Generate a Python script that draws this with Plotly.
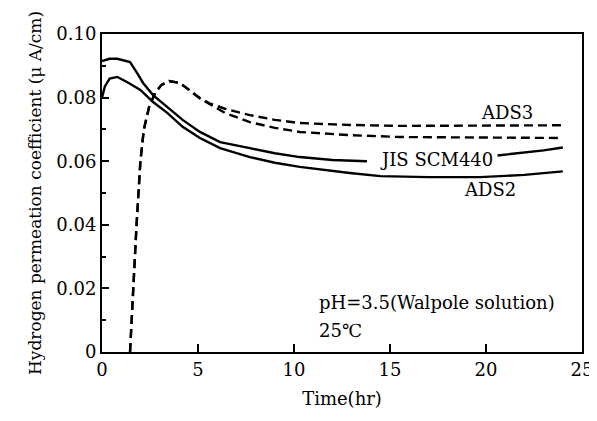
import plotly.graph_objects as go

# --- data ---
jis_x = [0, 0.4, 0.8, 1.1, 1.46, 1.8, 2.14, 2.66, 3.4, 4.2, 5.1, 6.15, 7.7, 9.0, 10.3, 12.0, 13.8, None, 20.6, 22, 23, 24]
jis_y = [0.0915, 0.0922, 0.0922, 0.0918, 0.0912, 0.0880, 0.0846, 0.0808, 0.0770, 0.0730, 0.0692, 0.0660, 0.0641, 0.0625, 0.0613, 0.0604, 0.0600, None, 0.0618, 0.0626, 0.0634, 0.0643]

ads2_x = [0, 0.15, 0.4, 0.8, 1.3, 2.0, 2.66, 3.4, 4.2, 5.1, 6.15, 7.7, 9.0, 10.3, 12.9, 14.5, 17, 19.7, 22, 24]
ads2_y = [0.0800, 0.0835, 0.0860, 0.0865, 0.0849, 0.0824, 0.0786, 0.0752, 0.0708, 0.0673, 0.0641, 0.0613, 0.0595, 0.0582, 0.0563, 0.0553, 0.0550, 0.0550, 0.0557, 0.0568]

ads3_x = [1.46, 1.62, 1.8, 2.0, 2.18, 2.45, 2.76, 3.1, 3.5, 4.06, 4.74, 5.1, 5.6, 6.4, 7.7, 9.0, 10.3, 12.9, 15.5, 20, 24]
ads3_y = [0.0, 0.020, 0.040, 0.060, 0.070, 0.0770, 0.0814, 0.0840, 0.0852, 0.0846, 0.0815, 0.0798, 0.0782, 0.0765, 0.0745, 0.0730, 0.0720, 0.0714, 0.0711, 0.0712, 0.0713]

other_x = [1.46, 1.62, 1.8, 2.0, 2.18, 2.45, 2.76, 3.1, 3.5, 4.06, 4.74, 5.1, 5.6, 6.4, 7.7, 9.0, 10.3, 12.9, 15.5, 20, 24]
other_y = [0.0, 0.020, 0.040, 0.060, 0.070, 0.0770, 0.0814, 0.0840, 0.0852, 0.0846, 0.0815, 0.0798, 0.0780, 0.0752, 0.0723, 0.0705, 0.0692, 0.0682, 0.0676, 0.0674, 0.0673]

y_ticks = [0, 0.02, 0.04, 0.06, 0.08, 0.10]
y_tick_labels = ["0", "0.02", "0.04", "0.06", "0.08", "0.10"]
y_minor = [0.01, 0.03, 0.05, 0.07, 0.09]
x_ticks = [0, 5, 10, 15, 20, 25]
x_tick_labels = ["0", "5", "10", "15", "20", "25"]

FONT = "DejaVu Serif"
FS = 18

fig = go.Figure()
solid = dict(color="black", width=2.4)
dashed = dict(color="black", width=2.4, dash="9px,5px")
fig.add_trace(go.Scatter(x=jis_x, y=jis_y, mode="lines", line=solid, name="JIS SCM440", connectgaps=False))
fig.add_trace(go.Scatter(x=ads2_x, y=ads2_y, mode="lines", line=solid, name="ADS2"))
fig.add_trace(go.Scatter(x=other_x, y=other_y, mode="lines", line=dashed, name="dashed"))
fig.add_trace(go.Scatter(x=ads3_x, y=ads3_y, mode="lines", line=dashed, name="ADS3"))

ann = dict(showarrow=False, font=dict(family=FONT, size=FS, color="black"))
fig.add_annotation(x=21.1, y=0.0752, text="ADS3", **ann)
fig.add_annotation(x=17.4, y=0.0604, text="JIS SCM440", **ann)
fig.add_annotation(x=20.2, y=0.0510, text="ADS2", **ann)
fig.add_annotation(x=11.2, y=0.0157, text="pH=3.5(Walpole solution)", xanchor="left", **ann)
fig.add_annotation(x=11.2, y=0.0069, text="25℃", xanchor="left", **ann)

# page body has an 8px margin, so the figure is sized to fit the window
fig.update_layout(
    width=589, height=413,
    margin=dict(l=94, r=15, t=26, b=69),
    plot_bgcolor="white", paper_bgcolor="white",
    showlegend=False,
    font=dict(family=FONT, size=FS, color="black"),
)
fig.update_xaxes(
    range=[0, 25], tickvals=x_ticks, ticktext=x_tick_labels, automargin=False,
    ticks="inside", ticklen=8, tickwidth=2, tickcolor="black",
    showline=True, linecolor="black", linewidth=2, mirror=True,
    showgrid=False, zeroline=False, tickfont=dict(size=FS),
    title=dict(text="Time(hr)", font=dict(family=FONT, size=FS), standoff=14),
)
fig.update_yaxes(
    range=[0, 0.10], tickvals=y_ticks, ticktext=y_tick_labels, automargin=False,
    ticks="inside", ticklen=7, tickwidth=2, tickcolor="black",
    minor=dict(tickvals=y_minor, ticks="inside", ticklen=4, tickwidth=2, tickcolor="black"),
    showline=True, linecolor="black", linewidth=2, mirror=True,
    showgrid=False, zeroline=False, tickfont=dict(size=FS),
    title=dict(text="Hydrogen permeation coefficient (μ A/cm)", font=dict(family=FONT, size=17), standoff=10),
)

fig.write_html("out.html")
